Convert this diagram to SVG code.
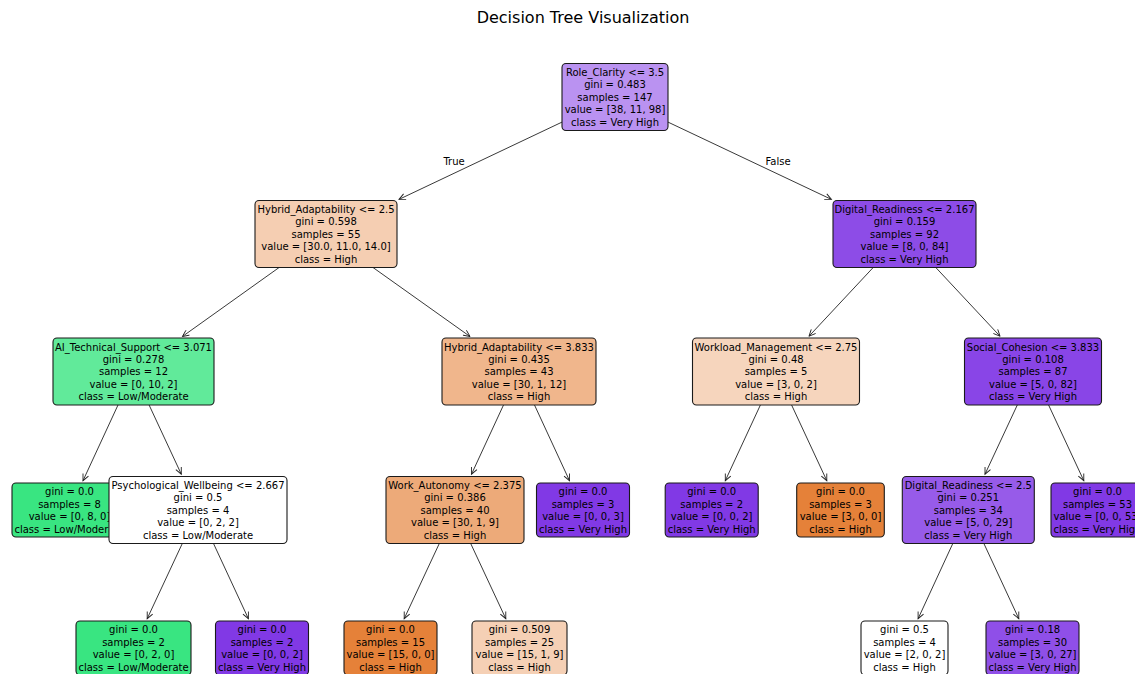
<svg xmlns="http://www.w3.org/2000/svg" width="1135" height="674" viewBox="0 0 1135 674">
<defs>
<style>
.bg{fill:#ffffff}
.box{stroke:#1a1a1a;stroke-width:1.1}
.t{font-family:"DejaVu Sans","Liberation Sans",sans-serif;font-size:10px;fill:#000;text-anchor:middle}
.title{font-family:"DejaVu Sans","Liberation Sans",sans-serif;font-size:16px;fill:#000;text-anchor:middle}
.edge{stroke:#222;stroke-width:0.9;fill:none;marker-end:url(#arr)}
</style>
<marker id="arr" viewBox="-8 -5 10 10" refX="0" refY="0" markerWidth="10" markerHeight="10" markerUnits="userSpaceOnUse" orient="auto">
<path d="M-6.5,-3 L0,0 L-6.5,3" fill="none" stroke="#222" stroke-width="0.9"/>
</marker>
</defs>
<rect class="bg" x="0" y="0" width="1135" height="674"/>
<text class="title" x="583" y="23">Decision Tree Visualization</text>
<g id="connectors">
<line class="edge" x1="562" y1="122.1" x2="399" y2="199.4"/>
<line class="edge" x1="668" y1="122.1" x2="831.4" y2="199.4"/>
<line class="edge" x1="279.1" y1="267.5" x2="182.4" y2="336.5"/>
<line class="edge" x1="373" y1="267.5" x2="470" y2="336.5"/>
<line class="edge" x1="873.2" y1="267.5" x2="809" y2="336.2"/>
<line class="edge" x1="935.8" y1="267.5" x2="1000" y2="336.2"/>
<line class="edge" x1="118" y1="405" x2="83" y2="480.7"/>
<line class="edge" x1="149.1" y1="405" x2="181.3" y2="474.2"/>
<line class="edge" x1="503.5" y1="405" x2="471.5" y2="474.2"/>
<line class="edge" x1="534.5" y1="405" x2="569.5" y2="480.7"/>
<line class="edge" x1="760.4" y1="405" x2="725.3" y2="480.7"/>
<line class="edge" x1="791.6" y1="405" x2="826.8" y2="480.7"/>
<line class="edge" x1="1017.3" y1="405" x2="985" y2="474.2"/>
<line class="edge" x1="1048.6" y1="405" x2="1083.8" y2="480.7"/>
<line class="edge" x1="182.3" y1="543.5" x2="147.2" y2="618.7"/>
<line class="edge" x1="213.5" y1="543.5" x2="248.4" y2="618.7"/>
<line class="edge" x1="439.3" y1="543.5" x2="404.2" y2="618.7"/>
<line class="edge" x1="470.7" y1="543.5" x2="505.8" y2="618.7"/>
<line class="edge" x1="952.8" y1="543.5" x2="918.1" y2="618.7"/>
<line class="edge" x1="983.9" y1="543.5" x2="1018.8" y2="618.7"/>
<text class="t" x="454" y="165">True</text>
<text class="t" x="778" y="165">False</text>
</g>
<g id="n0">
<rect class="box" x="562" y="63.5" width="106" height="67" rx="4" fill="#ba92f1"/>
<text class="t" x="615" y="76">Role_Clarity &lt;= 3.5</text>
<text class="t" x="615" y="88.4">gini = 0.483</text>
<text class="t" x="615" y="100.8">samples = 147</text>
<text class="t" x="615" y="113.2">value = [38, 11, 98]</text>
<text class="t" x="615" y="125.6">class = Very High</text>
</g>
<g id="n1">
<rect class="box" x="255" y="200.5" width="142" height="67" rx="4" fill="#f5ceb2"/>
<text class="t" x="326" y="213">Hybrid_Adaptability &lt;= 2.5</text>
<text class="t" x="326" y="225.4">gini = 0.598</text>
<text class="t" x="326" y="237.8">samples = 55</text>
<text class="t" x="326" y="250.2">value = [30.0, 11.0, 14.0]</text>
<text class="t" x="326" y="262.6">class = High</text>
</g>
<g id="n2">
<rect class="box" x="833" y="200.5" width="143" height="67" rx="4" fill="#8d4ce7"/>
<text class="t" x="904.5" y="213">Digital_Readiness &lt;= 2.167</text>
<text class="t" x="904.5" y="225.4">gini = 0.159</text>
<text class="t" x="904.5" y="237.8">samples = 92</text>
<text class="t" x="904.5" y="250.2">value = [8, 0, 84]</text>
<text class="t" x="904.5" y="262.6">class = Very High</text>
</g>
<g id="n3">
<rect class="box" x="53" y="338" width="161" height="67" rx="4" fill="#61ea9a"/>
<text class="t" x="133.5" y="350.5">AI_Technical_Support &lt;= 3.071</text>
<text class="t" x="133.5" y="362.9">gini = 0.278</text>
<text class="t" x="133.5" y="375.3">samples = 12</text>
<text class="t" x="133.5" y="387.7">value = [0, 10, 2]</text>
<text class="t" x="133.5" y="400.1">class = Low/Moderate</text>
</g>
<g id="n4">
<rect class="box" x="442" y="338" width="154" height="67" rx="4" fill="#f0b68c"/>
<text class="t" x="519" y="350.5">Hybrid_Adaptability &lt;= 3.833</text>
<text class="t" x="519" y="362.9">gini = 0.435</text>
<text class="t" x="519" y="375.3">samples = 43</text>
<text class="t" x="519" y="387.7">value = [30, 1, 12]</text>
<text class="t" x="519" y="400.1">class = High</text>
</g>
<g id="n5">
<rect class="box" x="692.5" y="338" width="167" height="67" rx="4" fill="#f6d5bd"/>
<text class="t" x="776" y="350.5">Workload_Management &lt;= 2.75</text>
<text class="t" x="776" y="362.9">gini = 0.48</text>
<text class="t" x="776" y="375.3">samples = 5</text>
<text class="t" x="776" y="387.7">value = [3, 0, 2]</text>
<text class="t" x="776" y="400.1">class = High</text>
</g>
<g id="n6">
<rect class="box" x="964.5" y="338" width="137" height="67" rx="4" fill="#8945e7"/>
<text class="t" x="1033" y="350.5">Social_Cohesion &lt;= 3.833</text>
<text class="t" x="1033" y="362.9">gini = 0.108</text>
<text class="t" x="1033" y="375.3">samples = 87</text>
<text class="t" x="1033" y="387.7">value = [5, 0, 82]</text>
<text class="t" x="1033" y="400.1">class = Very High</text>
</g>
<g id="n7">
<rect class="box" x="12" y="483" width="115" height="54" rx="4" fill="#39e581"/>
<text class="t" x="69.5" y="495.3">gini = 0.0</text>
<text class="t" x="69.5" y="507.7">samples = 8</text>
<text class="t" x="69.5" y="520.1">value = [0, 8, 0]</text>
<text class="t" x="69.5" y="532.5">class = Low/Moderate</text>
</g>
<g id="n8">
<rect class="box" x="109" y="476.5" width="178" height="67" rx="4" fill="#ffffff"/>
<text class="t" x="198" y="489">Psychological_Wellbeing &lt;= 2.667</text>
<text class="t" x="198" y="501.4">gini = 0.5</text>
<text class="t" x="198" y="513.8">samples = 4</text>
<text class="t" x="198" y="526.2">value = [0, 2, 2]</text>
<text class="t" x="198" y="538.6">class = Low/Moderate</text>
</g>
<g id="n9">
<rect class="box" x="386" y="476.5" width="138" height="67" rx="4" fill="#edaa79"/>
<text class="t" x="455" y="489">Work_Autonomy &lt;= 2.375</text>
<text class="t" x="455" y="501.4">gini = 0.386</text>
<text class="t" x="455" y="513.8">samples = 40</text>
<text class="t" x="455" y="526.2">value = [30, 1, 9]</text>
<text class="t" x="455" y="538.6">class = High</text>
</g>
<g id="n10">
<rect class="box" x="536.5" y="483" width="93" height="54" rx="4" fill="#8139e5"/>
<text class="t" x="583" y="495.3">gini = 0.0</text>
<text class="t" x="583" y="507.7">samples = 3</text>
<text class="t" x="583" y="520.1">value = [0, 0, 3]</text>
<text class="t" x="583" y="532.5">class = Very High</text>
</g>
<g id="n11">
<rect class="box" x="665.2" y="483" width="93" height="54" rx="4" fill="#8139e5"/>
<text class="t" x="711.7" y="495.3">gini = 0.0</text>
<text class="t" x="711.7" y="507.7">samples = 2</text>
<text class="t" x="711.7" y="520.1">value = [0, 0, 2]</text>
<text class="t" x="711.7" y="532.5">class = Very High</text>
</g>
<g id="n12">
<rect class="box" x="796.7" y="483" width="87.6" height="54" rx="4" fill="#e58139"/>
<text class="t" x="840.5" y="495.3">gini = 0.0</text>
<text class="t" x="840.5" y="507.7">samples = 3</text>
<text class="t" x="840.5" y="520.1">value = [3, 0, 0]</text>
<text class="t" x="840.5" y="532.5">class = High</text>
</g>
<g id="n13">
<rect class="box" x="902.3" y="476.5" width="132" height="67" rx="4" fill="#975be9"/>
<text class="t" x="968.3" y="489">Digital_Readiness &lt;= 2.5</text>
<text class="t" x="968.3" y="501.4">gini = 0.251</text>
<text class="t" x="968.3" y="513.8">samples = 34</text>
<text class="t" x="968.3" y="526.2">value = [5, 0, 29]</text>
<text class="t" x="968.3" y="538.6">class = Very High</text>
</g>
<g id="n14">
<rect class="box" x="1051" y="483" width="93" height="54" rx="4" fill="#8139e5"/>
<text class="t" x="1097.5" y="495.3">gini = 0.0</text>
<text class="t" x="1097.5" y="507.7">samples = 53</text>
<text class="t" x="1097.5" y="520.1">value = [0, 0, 53]</text>
<text class="t" x="1097.5" y="532.5">class = Very High</text>
</g>
<g id="n15">
<rect class="box" x="76" y="621" width="115" height="54" rx="4" fill="#39e581"/>
<text class="t" x="133.5" y="633.3">gini = 0.0</text>
<text class="t" x="133.5" y="645.7">samples = 2</text>
<text class="t" x="133.5" y="658.1">value = [0, 2, 0]</text>
<text class="t" x="133.5" y="670.5">class = Low/Moderate</text>
</g>
<g id="n16">
<rect class="box" x="215.5" y="621" width="93" height="54" rx="4" fill="#8139e5"/>
<text class="t" x="262" y="633.3">gini = 0.0</text>
<text class="t" x="262" y="645.7">samples = 2</text>
<text class="t" x="262" y="658.1">value = [0, 0, 2]</text>
<text class="t" x="262" y="670.5">class = Very High</text>
</g>
<g id="n17">
<rect class="box" x="344" y="621" width="93" height="54" rx="4" fill="#e58139"/>
<text class="t" x="390.5" y="633.3">gini = 0.0</text>
<text class="t" x="390.5" y="645.7">samples = 15</text>
<text class="t" x="390.5" y="658.1">value = [15, 0, 0]</text>
<text class="t" x="390.5" y="670.5">class = High</text>
</g>
<g id="n18">
<rect class="box" x="472" y="621" width="95" height="54" rx="4" fill="#f5d0b5"/>
<text class="t" x="519.5" y="633.3">gini = 0.509</text>
<text class="t" x="519.5" y="645.7">samples = 25</text>
<text class="t" x="519.5" y="658.1">value = [15, 1, 9]</text>
<text class="t" x="519.5" y="670.5">class = High</text>
</g>
<g id="n19">
<rect class="box" x="861" y="621" width="87" height="54" rx="4" fill="#ffffff"/>
<text class="t" x="904.5" y="633.3">gini = 0.5</text>
<text class="t" x="904.5" y="645.7">samples = 4</text>
<text class="t" x="904.5" y="658.1">value = [2, 0, 2]</text>
<text class="t" x="904.5" y="670.5">class = High</text>
</g>
<g id="n20">
<rect class="box" x="986" y="621" width="93" height="54" rx="4" fill="#8f4fe8"/>
<text class="t" x="1032.5" y="633.3">gini = 0.18</text>
<text class="t" x="1032.5" y="645.7">samples = 30</text>
<text class="t" x="1032.5" y="658.1">value = [3, 0, 27]</text>
<text class="t" x="1032.5" y="670.5">class = Very High</text>
</g>
</svg>
